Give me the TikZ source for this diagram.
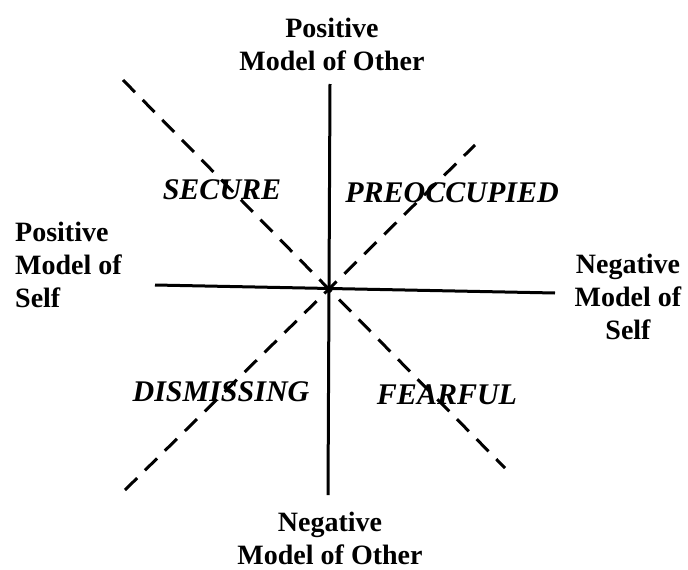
\documentclass[tikz,border=0pt]{standalone}
\usepackage{fontspec}
\setmainfont{Liberation Serif}
\usetikzlibrary{positioning}

\begin{document}
\begin{tikzpicture}[
  x=1pt, y=-1pt,
  every node/.style={inner sep=0pt},
  axislabel/.style={font=\fontsize{28}{33}\selectfont\bfseries},
  quadrant/.style={font=\fontsize{30}{34}\selectfont\bfseries\itshape},
  axis/.style={draw, line width=3pt},
  divider/.style={draw, line width=3pt, dash pattern=on 17pt off 11pt},
]
\useasboundingbox (0,0) rectangle (688,570);
% axes
\coordinate (otherpos) at (330,84);
\coordinate (otherneg) at (328,495);
\coordinate (selfpos) at (155,285);
\coordinate (selfneg) at (555,293);
\coordinate (nw) at (123,80);
\coordinate (se) at (505,468);
\coordinate (sw) at (125,490);
\coordinate (ne) at (475,145);
\draw[axis] (otherpos) -- (otherneg);
\draw[axis] (selfpos) -- (selfneg);
\draw[divider] (nw) -- (se);
\draw[divider] (sw) -- (ne);
% axis labels
\node[axislabel, align=center] (posother) at (332,44) {Positive\\Model of Other};
\node[axislabel, align=center] (negother) at (330,538) {Negative\\Model of Other};
\node[axislabel, align=left, anchor=west] (posself) at (15,265) {Positive\\Model of\\Self};
\node[axislabel, align=center] (negself) at (628,297) {Negative\\Model of\\Self};
% quadrants
\node[quadrant] (secure) at (222,190) {SECURE};
\node[quadrant] (preocc) at (452,193) {PREOCCUPIED};
\node[quadrant] (dismiss) at (221,392) {DISMISSING};
\node[quadrant] (fearful) at (447,395) {FEARFUL};
\end{tikzpicture}
\end{document}
